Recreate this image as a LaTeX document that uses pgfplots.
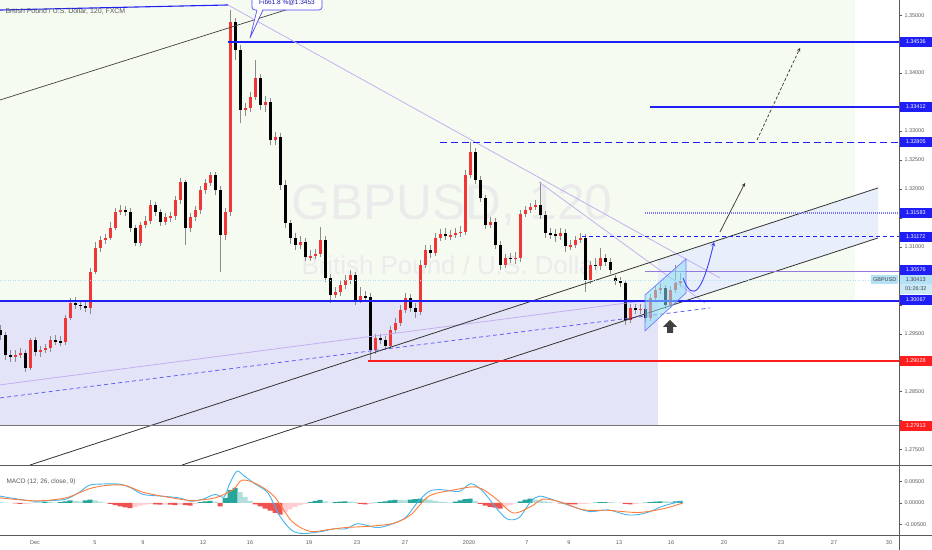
\documentclass[border=0pt]{standalone}
\usepackage{pgfplots}
\pgfplotsset{compat=1.18}
\usepackage{pgfplotstable}
\usepackage{fontspec}
\setmainfont{Liberation Sans}
\definecolor{tvblue}{RGB}{30,30,245}
\definecolor{tvred}{RGB}{255,30,30}
\definecolor{lav}{RGB}{195,175,240}
\definecolor{purp}{RGB}{150,120,220}
\definecolor{greenbg}{RGB}{246,251,242}
\definecolor{lavbg}{RGB}{228,228,248}
\definecolor{chanfill}{RGB}{232,238,250}
\definecolor{cyanfill}{RGB}{140,222,245}
\definecolor{curlbl}{RGB}{180,225,245}
\definecolor{candlered}{RGB}{242,54,54}
\definecolor{wick}{RGB}{140,140,140}
\definecolor{tickgray}{RGB}{90,90,90}
\definecolor{macdblue}{RGB}{70,180,235}
\definecolor{sigorange}{RGB}{255,125,60}
\definecolor{tealA}{RGB}{38,166,154}
\definecolor{tealB}{RGB}{178,223,219}
\definecolor{redA}{RGB}{239,83,80}
\definecolor{redB}{RGB}{255,205,210}
\newcommand\lbl{\fontsize{5.5}{6}\selectfont}

\pgfplotstableread{
x o h l c
0 1.2956 1.2965 1.2939 1.2948
5 1.2948 1.2953 1.2905 1.2913
10 1.2913 1.2922 1.2901 1.2910
15 1.2910 1.2922 1.2901 1.2913
20 1.2913 1.2925 1.2908 1.2917
25 1.2917 1.2922 1.2884 1.2891
30 1.2891 1.2943 1.2887 1.2939
35 1.2939 1.2944 1.2912 1.2918
40 1.2918 1.2929 1.2910 1.2922
45 1.2922 1.2932 1.2917 1.2925
50 1.2925 1.2946 1.2918 1.2939
55 1.2939 1.2948 1.2931 1.2937
60 1.2937 1.2946 1.2929 1.2936
65 1.2936 1.2982 1.2931 1.2977
70 1.2977 1.3012 1.2974 1.3003
75 1.3003 1.3013 1.2993 1.3000
80 1.3000 1.3008 1.2991 1.2998
85 1.2998 1.3005 1.2987 1.2994
90 1.2994 1.3063 1.2984 1.3057
95 1.3057 1.3108 1.3053 1.3098
100 1.3098 1.3119 1.3091 1.3112
105 1.3112 1.3122 1.3105 1.3115
110 1.3115 1.3143 1.3112 1.3132
115 1.3132 1.3167 1.3129 1.3160
120 1.3160 1.3172 1.3155 1.3164
125 1.3164 1.3170 1.3153 1.3160
130 1.3160 1.3167 1.3126 1.3132
135 1.3132 1.3138 1.3101 1.3107
140 1.3107 1.3143 1.3101 1.3138
145 1.3138 1.3153 1.3132 1.3145
150 1.3145 1.3181 1.3139 1.3172
155 1.3172 1.3177 1.3153 1.3160
160 1.3160 1.3165 1.3136 1.3143
165 1.3143 1.3158 1.3138 1.3151
170 1.3151 1.3160 1.3143 1.3153
175 1.3153 1.3188 1.3146 1.3181
180 1.3181 1.3219 1.3174 1.3212
185 1.3212 1.3215 1.3103 1.3132
190 1.3132 1.3158 1.3126 1.3151
195 1.3151 1.3170 1.3145 1.3164
200 1.3164 1.3205 1.3157 1.3198
205 1.3198 1.3217 1.3191 1.3210
210 1.3210 1.3229 1.3205 1.3224
215 1.3224 1.3229 1.3189 1.3198
220 1.3198 1.3205 1.3057 1.3120
225 1.3120 1.3167 1.3112 1.3160
230 1.3160 1.3509 1.3153 1.3488
235 1.3488 1.3495 1.3422 1.3440
240 1.3440 1.3448 1.3314 1.3336
245 1.3336 1.3348 1.3326 1.3340
250 1.3340 1.3367 1.3333 1.3359
255 1.3359 1.3422 1.3353 1.3391
260 1.3391 1.3398 1.3336 1.3345
265 1.3345 1.3360 1.3333 1.3350
270 1.3350 1.3357 1.3276 1.3284
275 1.3284 1.3298 1.3276 1.3290
280 1.3290 1.3296 1.3198 1.3207
285 1.3207 1.3215 1.3132 1.3141
290 1.3141 1.3146 1.3105 1.3115
295 1.3115 1.3124 1.3095 1.3103
300 1.3103 1.3119 1.3096 1.3108
305 1.3108 1.3115 1.3076 1.3082
310 1.3082 1.3095 1.3076 1.3084
315 1.3084 1.3096 1.3079 1.3088
320 1.3088 1.3134 1.3082 1.3112
325 1.3112 1.3119 1.3039 1.3046
330 1.3046 1.3053 1.3003 1.3017
335 1.3017 1.3031 1.3012 1.3022
340 1.3022 1.3043 1.3015 1.3034
345 1.3034 1.3051 1.3027 1.3043
350 1.3043 1.3060 1.3036 1.3051
355 1.3051 1.3057 1.3000 1.3008
360 1.3008 1.3031 1.3003 1.3015
365 1.3015 1.3024 1.3005 1.3013
370 1.3013 1.3020 1.2905 1.2922
375 1.2922 1.2950 1.2915 1.2943
380 1.2943 1.2950 1.2932 1.2939
385 1.2939 1.2946 1.2922 1.2929
390 1.2929 1.2963 1.2924 1.2956
395 1.2956 1.2977 1.2951 1.2969
400 1.2969 1.3000 1.2963 1.2991
405 1.2991 1.3020 1.2986 1.3012
410 1.3012 1.3019 1.2987 1.2994
415 1.2994 1.3003 1.2977 1.2987
420 1.2987 1.3077 1.2982 1.3069
425 1.3069 1.3103 1.3063 1.3095
430 1.3095 1.3103 1.3081 1.3089
435 1.3089 1.3124 1.3084 1.3115
440 1.3115 1.3131 1.3110 1.3122
445 1.3122 1.3132 1.3112 1.3119
450 1.3119 1.3129 1.3112 1.3120
455 1.3120 1.3132 1.3115 1.3124
460 1.3124 1.3136 1.3117 1.3126
465 1.3126 1.3233 1.3120 1.3224
470 1.3224 1.3281 1.3219 1.3264
475 1.3264 1.3271 1.3208 1.3215
480 1.3215 1.3222 1.3177 1.3184
485 1.3184 1.3189 1.3131 1.3138
490 1.3138 1.3151 1.3132 1.3143
495 1.3143 1.3150 1.3096 1.3103
500 1.3103 1.3110 1.3060 1.3069
505 1.3069 1.3088 1.3063 1.3081
510 1.3081 1.3089 1.3072 1.3079
515 1.3079 1.3091 1.3070 1.3081
520 1.3081 1.3164 1.3074 1.3157
525 1.3157 1.3170 1.3151 1.3164
530 1.3164 1.3176 1.3158 1.3169
535 1.3169 1.3181 1.3164 1.3172
540 1.3172 1.3212 1.3148 1.3155
545 1.3155 1.3162 1.3115 1.3124
550 1.3124 1.3132 1.3113 1.3122
555 1.3122 1.3131 1.3108 1.3119
560 1.3119 1.3132 1.3112 1.3124
565 1.3124 1.3131 1.3091 1.3101
570 1.3101 1.3112 1.3095 1.3103
575 1.3103 1.3119 1.3098 1.3112
580 1.3112 1.3124 1.3107 1.3115
585 1.3115 1.3122 1.3022 1.3043
590 1.3043 1.3076 1.3036 1.3069
595 1.3069 1.3081 1.3060 1.3067
600 1.3067 1.3098 1.3060 1.3081
605 1.3081 1.3088 1.3067 1.3074
610 1.3074 1.3081 1.3053 1.3060
615 1.3046 1.3051 1.3034 1.3041
620 1.3041 1.3048 1.3031 1.3038
625 1.3038 1.3043 1.2965 1.2974
630 1.2974 1.3001 1.2969 1.2994
635 1.2994 1.3001 1.2984 1.2991
640 1.2991 1.3001 1.2984 1.2993
645 1.2993 1.3000 1.2970 1.2977
650 1.2977 1.3019 1.2972 1.3012
655 1.3012 1.3032 1.3005 1.3025
660 1.3025 1.3038 1.3019 1.3029
665 1.3029 1.3034 1.2993 1.3000
670 1.3000 1.3032 1.2994 1.3025
675 1.3025 1.3069 1.3020 1.3038
680 1.3038 1.3055 1.3031 1.3041
}\candles

\pgfplotstableread{
x m
0 0.0016
18 0.0009
36 0.0004
54 0.0006
66 0.0009
78 0.0023
89 0.0041
101 0.0044
119 0.0044
131 0.0035
143 0.0020
161 0.0016
179 0.0012
191 0.0004
203 0.0009
215 0.0020
224 0.0014
230 0.0047
237 0.0074
244 0.0063
256 0.0043
268 0.0023
280 -0.0031
292 -0.0064
304 -0.0071
322 -0.0066
334 -0.0060
346 -0.0060
358 -0.0048
376 -0.0057
388 -0.0052
405 -0.0035
417 0.0000
429 0.0027
441 0.0031
459 0.0027
471 0.0045
483 0.0027
495 -0.0008
507 -0.0037
519 -0.0034
531 0.0004
540 0.0016
555 0.0006
572 -0.0008
590 -0.0020
608 -0.0016
626 -0.0027
638 -0.0027
650 -0.0020
662 -0.0008
674 0.0000
683 0.0004
}\macdline

\pgfplotstableread{
x s
0 0.0012
36 0.0005
66 0.0012
89 0.0033
107 0.0041
125 0.0041
143 0.0025
167 0.0014
191 0.0006
215 0.0012
233 0.0031
242 0.0053
256 0.0045
274 0.0016
292 -0.0043
310 -0.0066
328 -0.0062
346 -0.0057
370 -0.0054
394 -0.0047
411 -0.0027
429 0.0016
453 0.0030
477 0.0037
495 0.0012
513 -0.0023
531 -0.0008
543 0.0009
561 0.0002
584 -0.0016
608 -0.0017
638 -0.0022
662 -0.0014
683 0.0000
}\signalline

\pgfplotstableread{
x v k
0 0.0002 2
5 0.0001 2
10 0.0000 2
15 -0.0001 3
20 -0.0002 3
25 -0.0002 4
30 -0.0001 4
35 0.0001 1
40 0.0001 1
45 0.0002 1
50 0.0002 2
55 0.0001 2
60 0.0002 1
65 0.0004 1
70 0.0006 1
75 0.0005 2
80 0.0004 2
85 0.0006 1
90 0.0008 1
95 0.0006 2
100 0.0003 2
105 0.0001 2
110 -0.0002 3
115 -0.0005 3
120 -0.0008 3
125 -0.0010 3
130 -0.0012 3
135 -0.0009 4
140 -0.0006 4
145 -0.0004 4
150 -0.0002 4
155 -0.0003 3
160 -0.0004 3
165 -0.0003 4
170 -0.0004 3
175 -0.0005 3
180 -0.0003 4
185 -0.0005 3
190 -0.0006 3
195 -0.0002 4
200 0.0002 1
205 0.0004 1
210 0.0005 1
215 0.0003 2
220 -0.0008 3
225 0.0012 1
230 0.0030 1
235 0.0035 1
240 0.0025 2
245 0.0014 2
250 0.0005 2
255 -0.0003 3
260 -0.0008 3
265 -0.0013 3
270 -0.0018 3
275 -0.0023 3
280 -0.0027 3
285 -0.0022 4
290 -0.0015 4
295 -0.0009 4
300 -0.0005 4
305 -0.0002 4
310 0.0002 1
315 0.0005 1
320 0.0007 1
325 0.0004 2
330 0.0001 2
335 0.0002 1
340 0.0003 1
345 0.0004 1
350 0.0003 2
355 0.0002 2
360 -0.0002 3
365 -0.0003 3
370 -0.0002 4
375 0.0001 1
380 0.0002 1
385 0.0004 1
390 0.0006 1
395 0.0007 1
400 0.0007 2
405 0.0006 2
410 0.0008 1
415 0.0009 1
420 0.0010 1
425 0.0009 2
430 0.0007 2
435 0.0005 2
440 0.0003 2
445 0.0002 2
450 0.0001 2
455 0.0003 1
460 0.0006 1
465 0.0009 1
470 0.0010 1
475 0.0005 2
480 -0.0002 3
485 -0.0006 3
490 -0.0009 3
495 -0.0011 3
500 -0.0013 3
505 -0.0009 4
510 -0.0005 4
515 -0.0001 4
520 0.0004 1
525 0.0008 1
530 0.0010 1
535 0.0008 2
540 0.0006 2
545 0.0004 2
550 0.0002 2
555 0.0000 2
560 -0.0001 3
565 -0.0002 3
570 -0.0003 3
575 -0.0003 3
580 -0.0002 4
585 -0.0002 4
590 -0.0001 4
595 0.0001 1
600 0.0002 1
605 0.0002 1
610 0.0002 2
615 0.0001 2
620 0.0001 2
625 -0.0002 3
630 -0.0003 3
635 -0.0002 4
640 -0.0001 4
645 0.0001 1
650 0.0002 1
655 0.0003 1
660 0.0004 1
665 0.0004 2
670 0.0003 2
675 0.0004 1
680 0.0005 1
}\hist

\begin{document}
\begin{tikzpicture}
\useasboundingbox (0bp,0bp) rectangle (932bp,550bp);
\fill[white] (0bp,0bp) rectangle (932bp,550bp);

% ---------------- main price panel ----------------
\begin{axis}[
  at={(0bp,550bp)}, anchor=north west,
  width=899bp, height=465bp, scale only axis,
  xmin=0, xmax=899, ymin=1.27235, ymax=1.35261,
  axis x line=none, axis y line*=right,
  axis line style={draw=tickgray, line width=0.6bp},
  ytick={1.275,1.285,1.295,1.31,1.32,1.325,1.33,1.34,1.35},
  extra y ticks={1.28,1.29,1.3,1.305,1.315,1.335,1.345},
  extra y tick labels={},
  tick align=outside, major tick length=3bp,
  tick style={draw=tickgray, line width=0.5bp},
  /pgf/number format/assume math mode=true,
  yticklabel style={font=\lbl, text=tickgray, xshift=-1bp,
    /pgf/number format/fixed, /pgf/number format/fixed zerofill,
    /pgf/number format/precision=5},
  scaled y ticks=false,
]
% backgrounds
\fill[greenbg] (0,1.30067) rectangle (855,1.35261);
\fill[lavbg] (0,1.27913) rectangle (658,1.30067);
\fill[chanfill] (658,1.30774) -- (878,1.32017) -- (878,1.31154) -- (658,1.29912) -- cycle;
% watermark
\node[text=black!8, font=\fontsize{50}{50}\selectfont] at (452,1.31724) {GBPUSD, 120};
\node[text=black!8, font=\fontsize{26}{26}\selectfont] at (452,1.30688) {British Pound / U.S. Dollar};

% candles
\addplot[draw=none, mark=none, forget plot,
  error bars/.cd, y dir=both, y explicit, error mark=none,
  error bar style={draw=wick, line width=0.7bp}]
  table[x=x, y expr={(\thisrow{h}+\thisrow{l})/2}, y error expr={(\thisrow{h}-\thisrow{l})/2}] {\candles};
\addplot[draw=none, mark=none, forget plot,
  restrict expr to domain={\thisrow{c}-\thisrow{o}}{0:1},
  error bars/.cd, y dir=both, y explicit, error mark=none,
  error bar style={draw=candlered, line width=3bp}]
  table[x=x, y expr={(\thisrow{o}+\thisrow{c})/2}, y error expr={abs(\thisrow{c}-\thisrow{o})/2}] {\candles};
\addplot[draw=none, mark=none, forget plot,
  restrict expr to domain={\thisrow{c}-\thisrow{o}}{-1:0},
  error bars/.cd, y dir=both, y explicit, error mark=none,
  error bar style={draw=black, line width=3bp}]
  table[x=x, y expr={(\thisrow{o}+\thisrow{c})/2}, y error expr={abs(\thisrow{c}-\thisrow{o})/2}] {\candles};

% trend lines
\draw[draw=black!75, line width=0.7bp] (0,1.33535) -- (330,1.35330);
\draw[draw=tvblue, line width=1.1bp] (0,1.35088) -- (228,1.35175);
\draw[draw=tvblue, line width=1.3bp] (228,1.34536) -- (899,1.34536);
\draw[draw=lav, line width=0.8bp] (228,1.35175) -- (720,1.30464);
\draw[draw=lav, line width=0.8bp] (539,1.32120) -- (705,1.30030);
\draw[draw=lav, line width=0.8bp] (0,1.28618) -- (650,1.30084);
\draw[draw=tvblue!70, line width=0.8bp, dash pattern=on 4bp off 3bp] (0,1.28393) -- (710,1.29946);
\draw[draw=black!80, line width=0.8bp] (30,1.27235) -- (878,1.32017);
\draw[draw=black!80, line width=0.8bp] (182,1.27235) -- (878,1.31154);
% horizontal levels
\draw[draw=tvblue, line width=1.5bp] (650,1.33412) -- (899,1.33412);
\draw[draw=tvblue, line width=1.4bp, dash pattern=on 7bp off 4bp] (440,1.32805) -- (899,1.32805);
\draw[draw=tvblue!60, line width=1.3bp, dash pattern=on 1bp off 1bp] (645,1.31583) -- (899,1.31583);
\draw[draw=tvblue, line width=1.1bp, dash pattern=on 4bp off 3bp] (582,1.31172) -- (899,1.31172);
\draw[draw=purp, line width=1.5bp] (645,1.30576) -- (899,1.30576);
\draw[draw=curlbl, line width=0.9bp, dash pattern=on 1bp off 1.5bp] (0,1.30413) -- (899,1.30413);
\draw[draw=tvblue, line width=1.4bp] (0,1.30067) -- (899,1.30067);
\draw[draw=tvred, line width=1.3bp] (368,1.29028) -- (899,1.29028);
\draw[draw=black!55, line width=0.7bp] (0,1.27913) -- (899,1.27913);
% rising wedge
\filldraw[fill=cyanfill, fill opacity=0.55, draw=tvblue!60, line width=0.7bp]
  (645,1.29549) -- (645,1.30170) -- (686,1.30792) -- (686,1.30205) -- cycle;
% projected path arrows
\draw[draw=tvblue!85, line width=0.9bp, -{stealth}] (683,1.30464) .. controls (693,1.29998) and (703,1.30257) .. (714,1.31085);
\draw[draw=black!80, line width=0.7bp, -{stealth}] (720,1.31258) -- (745,1.32103);
\draw[draw=black!80, line width=0.7bp, dash pattern=on 3bp off 2bp, -{stealth}] (757,1.32845) -- (800,1.34433);
% up marker
\fill[black!75] (663,1.29618) -- (670,1.29739) -- (677,1.29618) -- (673,1.29618) -- (673,1.29515) -- (667,1.29515) -- (667,1.29618) -- cycle;
% callout
\draw[draw=tvblue!80, fill=white, line width=0.7bp, rounded corners=3bp] (252,1.35089) rectangle (322,1.3560);
\fill[white] (257,1.35115) -- (250,1.34605) -- (263,1.35115) -- cycle;
\draw[draw=tvblue!80, line width=0.7bp] (257,1.35089) -- (250,1.34605) -- (263,1.35089);
\node[text=tvblue!70!black, font=\fontsize{6.5}{7}\selectfont] at (287,1.35212) {Fib61.8 \%@1.3453};
% title
\node[anchor=west, text=tickgray, font=\fontsize{7}{8}\selectfont] at (2,1.35070) {British Pound / U.S. Dollar, 120, FXCM};
\end{axis}

% ---------------- MACD panel ----------------
\begin{axis}[
  at={(0bp,83bp)}, anchor=north west,
  width=899bp, height=68bp, scale only axis,
  xmin=0, xmax=899, ymin=-0.00744, ymax=0.00837,
  axis x line=none, axis y line*=right,
  axis line style={draw=tickgray, line width=0.6bp},
  ytick={-0.005,0,0.005},
  tick align=outside, major tick length=3bp,
  tick style={draw=tickgray, line width=0.5bp},
  /pgf/number format/assume math mode=true,
  yticklabel style={font=\lbl, text=tickgray, xshift=-1bp,
    /pgf/number format/fixed, /pgf/number format/fixed zerofill,
    /pgf/number format/precision=5},
  scaled y ticks=false,
]
\addplot[ybar, bar width=5bp, bar shift=0pt, fill=tealA, draw=none, forget plot,
  restrict expr to domain={\thisrow{k}}{0.5:1.5}] table[x=x, y=v] {\hist};
\addplot[ybar, bar width=5bp, bar shift=0pt, fill=tealB, draw=none, forget plot,
  restrict expr to domain={\thisrow{k}}{1.5:2.5}] table[x=x, y=v] {\hist};
\addplot[ybar, bar width=5bp, bar shift=0pt, fill=redA, draw=none, forget plot,
  restrict expr to domain={\thisrow{k}}{2.5:3.5}] table[x=x, y=v] {\hist};
\addplot[ybar, bar width=5bp, bar shift=0pt, fill=redB, draw=none, forget plot,
  restrict expr to domain={\thisrow{k}}{3.5:4.5}] table[x=x, y=v] {\hist};
\addplot[macdblue, line width=0.9bp, mark=none, smooth] table[x=x, y=m] {\macdline};
\addplot[sigorange, line width=0.9bp, mark=none, smooth] table[x=x, y=s] {\signalline};
\end{axis}

% frame lines
\draw[draw=tickgray, line width=1.1bp] (0bp,84.5bp) -- (932bp,84.5bp);
\draw[draw=tickgray, line width=0.7bp] (0bp,15bp) -- (932bp,15bp);
\draw[draw=tickgray, line width=0.6bp] (899bp,0bp) -- (899bp,550bp);
\node[anchor=west, text=tickgray, font=\fontsize{6.5}{7}\selectfont] at (3bp,68bp) {MACD (12, 26, close, 9)};

% date labels
\foreach \xx/\tt in {35/Dec,95/5,143/9,203/12,250/16,309/19,357/23,405/27,469/2020,527/7,569/9,619/13,671/16,724/20,781/23,834/27,889/30}
  \node[text=tickgray, font=\lbl] at (\xx bp,7bp) {\tt};

% price labels
\tikzset{pl/.style={anchor=west, text=white, font=\lbl, minimum width=32bp, minimum height=9.5bp, inner sep=0pt}}
\node[pl, fill=tvblue] at (899.5bp,508bp) {1.34536};
\node[pl, fill=tvblue] at (899.5bp,443bp) {1.33412};
\node[pl, fill=tvblue] at (899.5bp,408bp) {1.32805};
\node[pl, fill=tvblue] at (899.5bp,337bp) {1.31583};
\node[pl, fill=tvblue] at (899.5bp,313bp) {1.31172};
\node[pl, fill=tvblue] at (899.5bp,280bp) {1.30576};
\node[pl, fill=curlbl, text=black!75] at (899.5bp,270.5bp) {1.30413};
\node[pl, fill=curlbl!70, text=black!75] at (899.5bp,261bp) {01:26:32};
\node[pl, fill=tvblue] at (899.5bp,250bp) {1.30067};
\node[pl, fill=tvred] at (899.5bp,189bp) {1.29028};
\node[pl, fill=tvred] at (899.5bp,124bp) {1.27913};
\node[anchor=east, fill=curlbl, text=black!75, font=\lbl, minimum height=9.5bp, inner xsep=2bp, inner ysep=0pt] at (898.5bp,270.5bp) {GBPUSD};
\end{tikzpicture}
\end{document}
